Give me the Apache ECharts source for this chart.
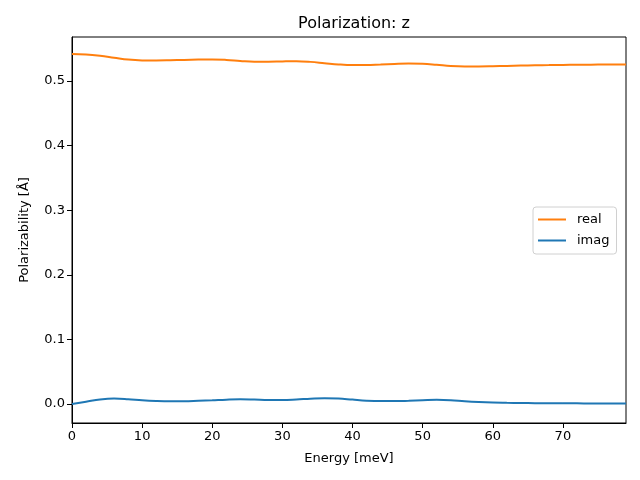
<!DOCTYPE html>
<html><head><meta charset="utf-8">
<script src="https://cdn.jsdelivr.net/npm/echarts@6/dist/echarts.min.js"></script>
<style>html,body{margin:0;padding:0;background:#fff}#c{width:640px;height:480px}</style>
</head><body><div id="c"></div>
<script>
const energy = [0,2,4,6,8,10,12,14,16,18,20,22,24,26,28,30,32,34,36,38,40,42,44,46,48,50,52,54,56,58,60,62,64,66,68,70,72,74,76,78,79];
const realVals = [0.5415,0.5410,0.5390,0.5360,0.5330,0.5318,0.5317,0.5320,0.5325,0.5330,0.5332,0.5325,0.5310,0.5298,0.5297,0.5302,0.5305,0.5295,0.5275,0.5255,0.5245,0.5247,0.5255,0.5263,0.5268,0.5265,0.5250,0.5232,0.5225,0.5225,0.5228,0.5233,0.5238,0.5242,0.5245,0.5248,0.5250,0.5252,0.5254,0.5255,0.5255];
const imagVals = [0.0000,0.0035,0.0070,0.0085,0.0075,0.0058,0.0047,0.0042,0.0043,0.0050,0.0058,0.0067,0.0072,0.0068,0.0062,0.0062,0.0070,0.0082,0.0090,0.0085,0.0068,0.0052,0.0045,0.0045,0.0050,0.0058,0.0065,0.0058,0.0042,0.0030,0.0022,0.0018,0.0015,0.0013,0.0012,0.0011,0.0010,0.0009,0.0008,0.0008,0.0008];
const yTicks = [0.0,0.1,0.2,0.3,0.4,0.5];
const xTicks = [0,10,20,30,40,50,60,70];

const chart = echarts.init(document.getElementById('c'), null, {renderer:'canvas'});
const font = 'DejaVu Sans';
const pair = v => energy.map((x,i)=>[x,v[i]]);
chart.setOption({
  animation:false,
  backgroundColor:'#fff',
  title:{text:'Polarization: z',left:349,top:11,textAlign:'center',
    textStyle:{fontFamily:font,fontSize:16,fontWeight:'normal',color:'#000'}},
  grid:{left:72,right:14,top:37,bottom:57,show:true,borderColor:'#000',borderWidth:1,backgroundColor:'transparent'},
  legend:{orient:'vertical',left:533,top:207,data:['real','imag'],
    icon:'rect',itemWidth:28,itemHeight:2,itemGap:8,
    borderColor:'#d0d0d0',borderWidth:1,borderRadius:3,backgroundColor:'#fff',
    padding:[6,7,7,5],
    textStyle:{fontFamily:font,fontSize:13,color:'#000',padding:[0,0,0,6]}},
  xAxis:{type:'value',min:0,max:79,interval:10,
    name:'Energy [meV]',nameLocation:'middle',nameGap:29,
    nameTextStyle:{fontFamily:font,fontSize:13,color:'#000'},
    axisLine:{show:true,onZero:false,lineStyle:{color:'#000',width:1}},
    axisTick:{show:true,inside:false,length:5,lineStyle:{color:'#000'},customValues:xTicks},
    axisLabel:{fontFamily:font,fontSize:13,color:'#000',margin:7,customValues:xTicks},
    splitLine:{show:false}},
  yAxis:{type:'value',min:-0.0294,max:0.568,
    name:'Polarizability [Å]',nameLocation:'middle',nameGap:41,
    nameTextStyle:{fontFamily:font,fontSize:13,color:'#000'},
    axisLine:{show:true,onZero:false,lineStyle:{color:'#000',width:1}},
    axisTick:{show:true,inside:false,length:5,lineStyle:{color:'#000'},customValues:yTicks},
    axisLabel:{fontFamily:font,fontSize:13,color:'#000',margin:7,customValues:yTicks,
      formatter:v=>v.toFixed(1)},
    splitLine:{show:false}},
  series:[
    {name:'imag',type:'line',data:pair(imagVals),smooth:0.4,showSymbol:false,symbol:'none',
      itemStyle:{color:'#1f77b4'},lineStyle:{color:'#1f77b4',width:2}},
    {name:'real',type:'line',data:pair(realVals),smooth:0.4,showSymbol:false,symbol:'none',
      itemStyle:{color:'#ff7f0e'},lineStyle:{color:'#ff7f0e',width:2}}
  ]
});
</script></body></html>
